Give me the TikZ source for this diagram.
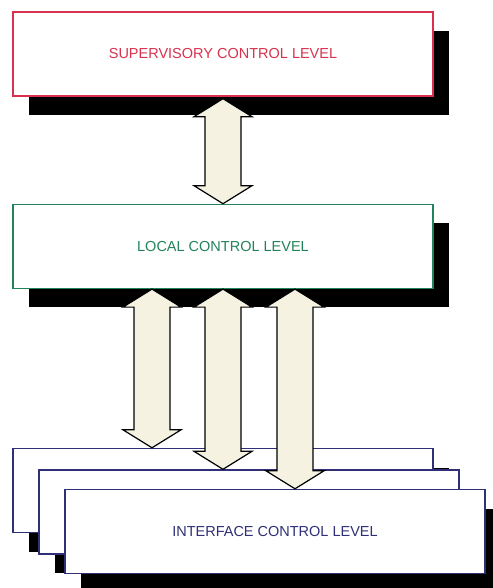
\documentclass[tikz,border=0pt]{standalone}
\usepackage{fontspec}
\setmainfont{Liberation Sans}
\usetikzlibrary{positioning,calc,shadows}

\definecolor{supred}{HTML}{D8324E}
\definecolor{locgreen}{HTML}{23845C}
\definecolor{ifblue}{HTML}{303078}
\definecolor{arrowcream}{HTML}{F6F2E2}

\tikzset{
  level/.style={draw, fill=white, line width=1.4pt, minimum width=420pt,
    minimum height=84pt, inner sep=0pt, font=\fontsize{14.5}{16}\selectfont,
    drop shadow={shadow xshift=16pt, shadow yshift=-19pt, fill=black, opacity=1}},
  blockarrow/.style={draw=black, fill=arrowcream, line width=1.2pt, line join=miter}
}

% two-headed block arrow: x from the first point, tips at both y's
\newcommand{\dblarrow}[2]{%
  \draw[blockarrow] let \p1=#1, \p2=#2 in
    (\x1,\y1) -- (\x1+29pt,\y1-18pt) -- (\x1+18pt,\y1-18pt)
    -- (\x1+18pt,\y2+18pt) -- (\x1+29pt,\y2+18pt) -- (\x1,\y2)
    -- (\x1-29pt,\y2+18pt) -- (\x1-18pt,\y2+18pt)
    -- (\x1-18pt,\y1-18pt) -- (\x1-29pt,\y1-18pt) -- cycle;
}

\begin{document}
\begin{tikzpicture}[x=1pt,y=-1pt]
  \useasboundingbox (0,0) rectangle (492,588);

  % Levels
  \node[level, draw=supred, text=supred] (sup) at (223,54) {SUPERVISORY CONTROL LEVEL};
  \node[level, draw=locgreen, text=locgreen, below=107pt of sup] (loc) {LOCAL CONTROL LEVEL};

  % Interface boxes, stacked
  \node[level, draw=ifblue] (if1) at (223,490.5) {};
  \node[level, draw=ifblue] (if2) at ([shift={(26pt,-21.5pt)}]if1) {};
  \node[level, draw=ifblue, text=ifblue] (if3) at ([shift={(26pt,-19.5pt)}]if2) {INTERFACE CONTROL LEVEL};

  % Arrows
  \dblarrow{([yshift=-2pt]sup.south)}{(loc.north)}
  \dblarrow{([xshift=-71pt]loc.south)}{(if1.north)}
  \dblarrow{(loc.south)}{(if2.north)}
  \dblarrow{([xshift=72pt]loc.south)}{(if3.north)}
\end{tikzpicture}
\end{document}
